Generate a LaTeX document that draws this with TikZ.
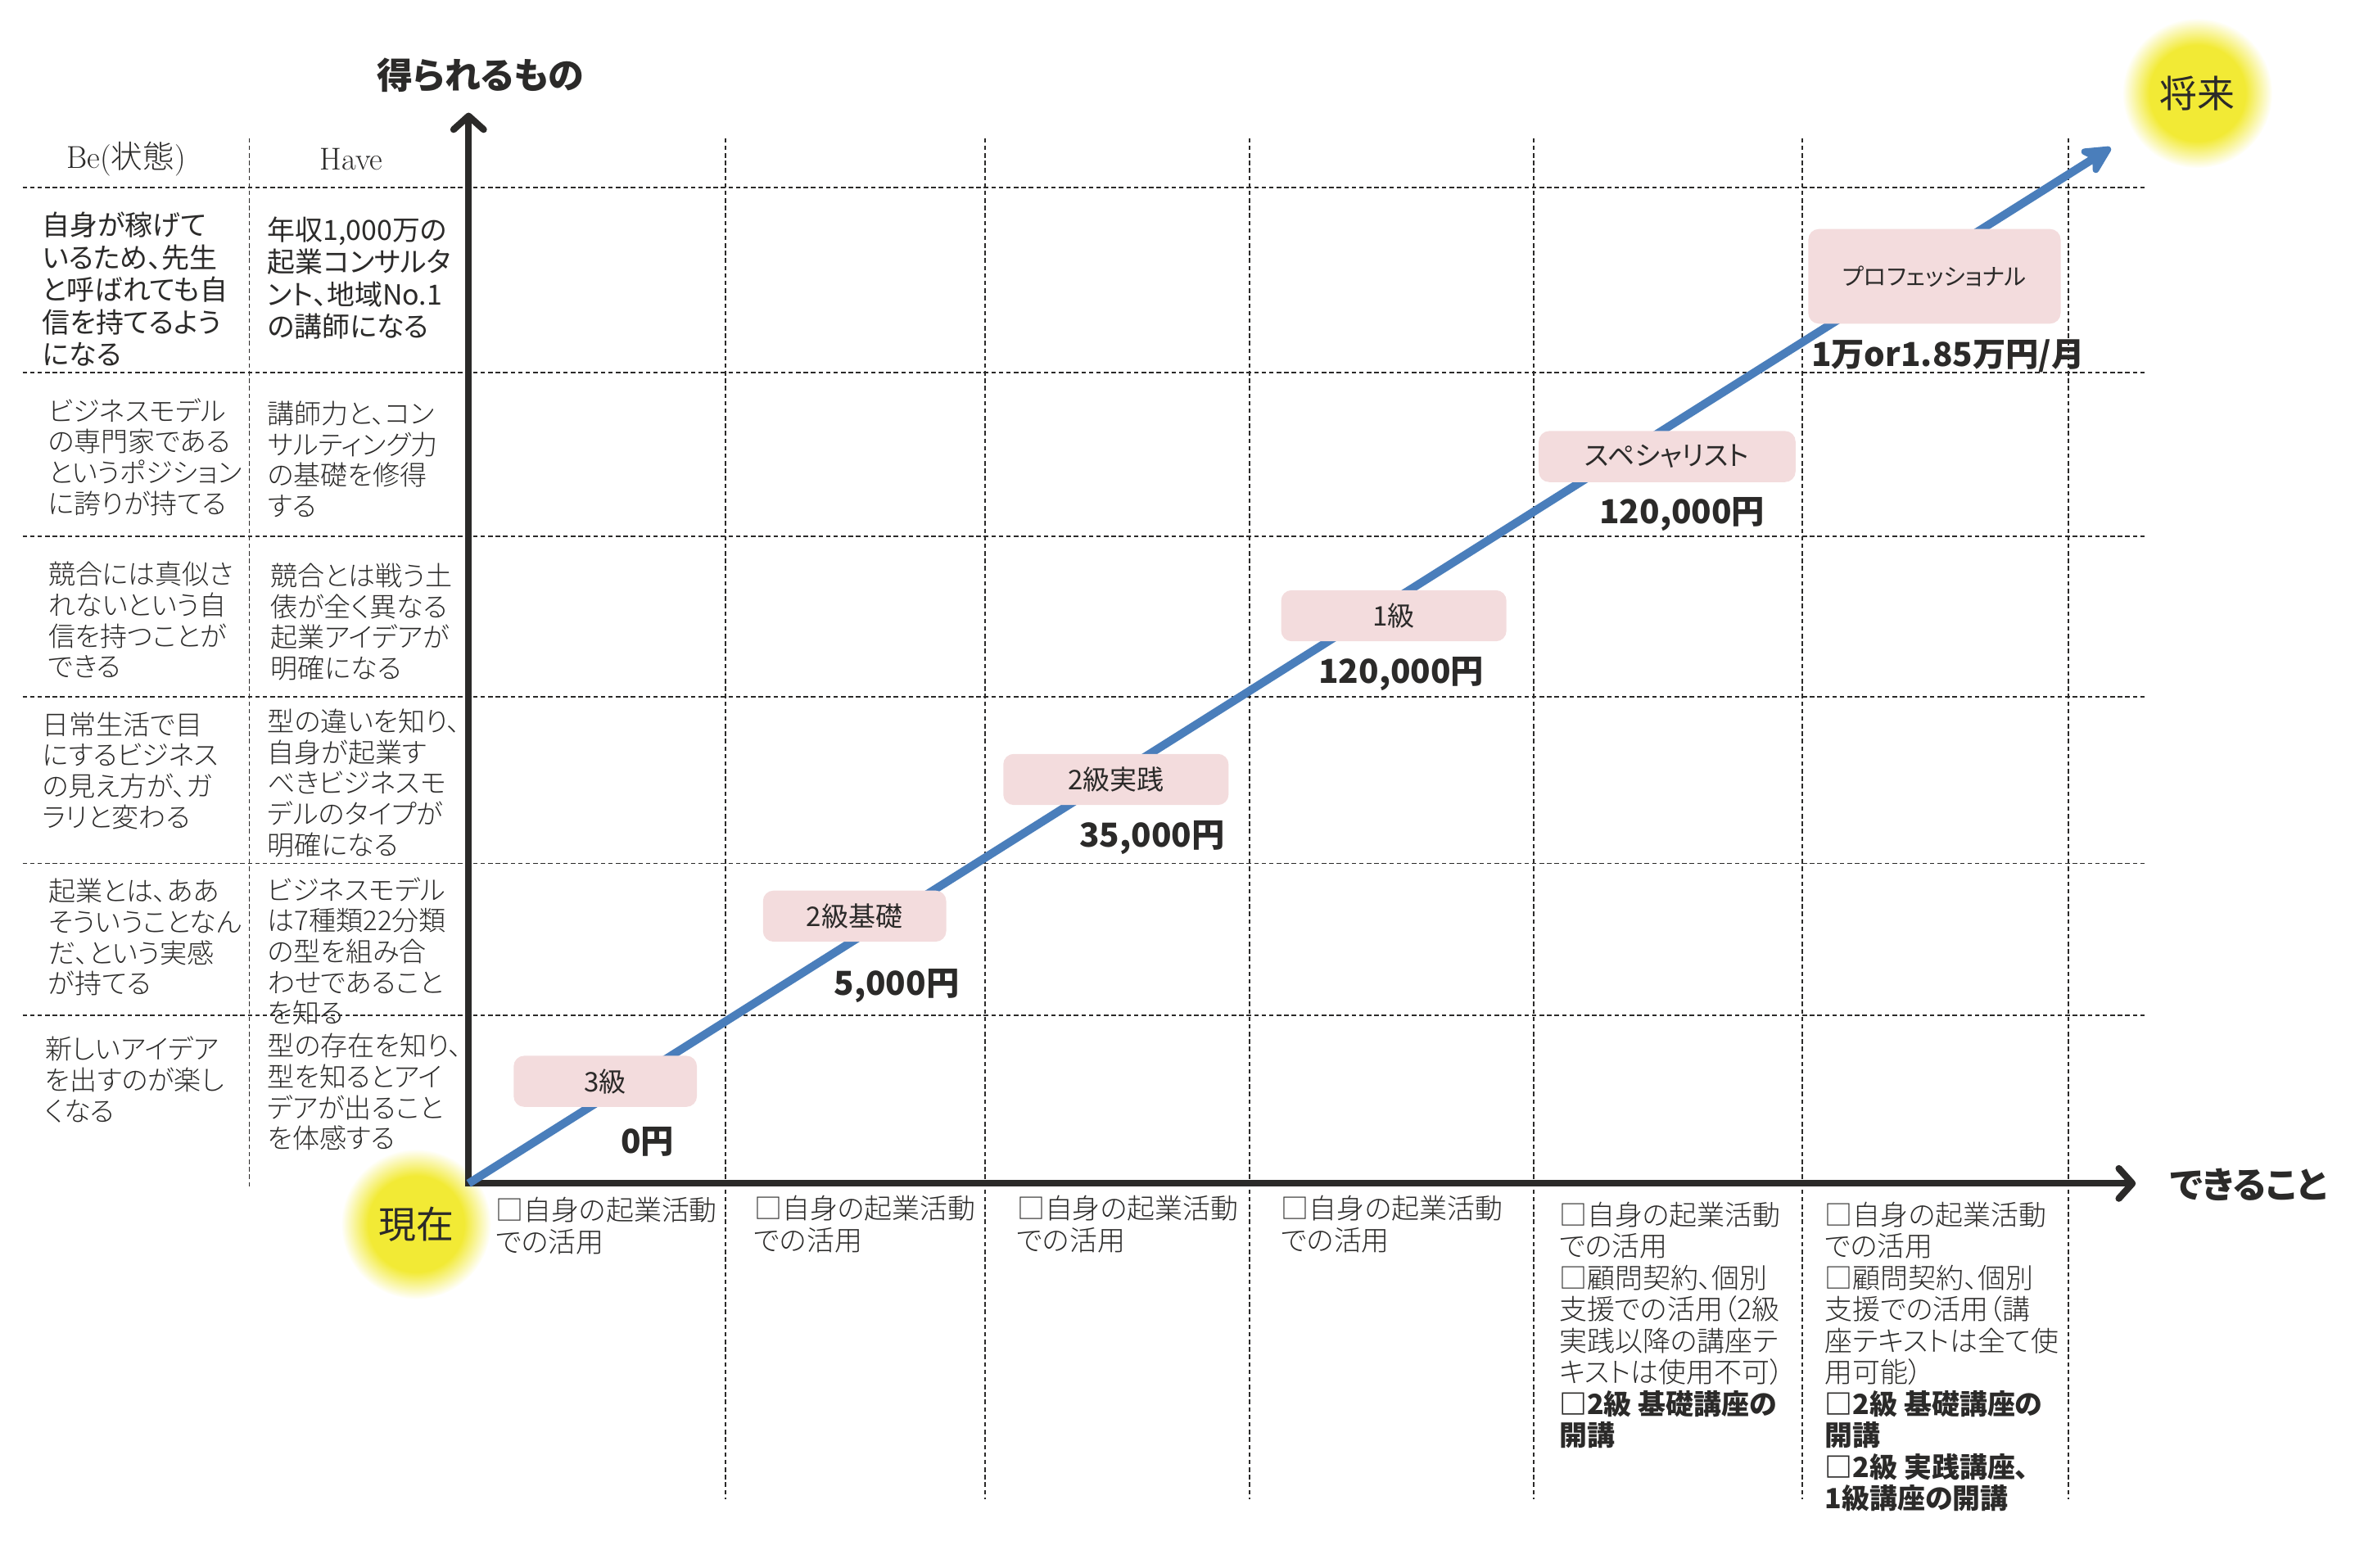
\documentclass[tikz,border=0pt]{standalone}
\usepackage{fontspec}
\usepackage{tikz}
\usetikzlibrary{arrows.meta,positioning}
\newfontfamily\jp[RawFeature=+palt]{Noto Sans CJK JP}
\IfFontExistsTF{Noto Sans CJK JP Light}
	{\newfontfamily\jplight[RawFeature=+palt]{Noto Sans CJK JP Light}}
	{\newfontfamily\jplight[RawFeature=+palt]{Noto Sans CJK JP}}
\newcommand{\boldline}[1]{{\jp\bfseries #1}}
\definecolor{inkgray}{HTML}{2B2A29}
\definecolor{boxpink}{HTML}{F3DCDD}
\definecolor{lineblue}{HTML}{4A7EBB}
\definecolor{glowyellow}{HTML}{F2EA35}
\pgfdeclareradialshading{glow}{\pgfpoint{0bp}{0bp}}{color(0bp)=(glowyellow); color(16bp)=(glowyellow); color(25bp)=(white); color(50bp)=(white)}
\tikzset{
	gridline/.style={draw=inkgray, line width=0.9pt, dash pattern=on 3pt off 2pt},
	axis/.style={draw=inkgray, line width=4.5pt, {Straight Barb[length=9pt,width=20pt,round]}-{Straight Barb[length=9pt,width=20pt,round]}},
	progress/.style={draw=lineblue, line width=5.5pt, -{Stealth[length=24pt,width=24pt,inset=7pt,round]}},
	spot/.style={circle, shading=glow, minimum size=100pt, inner sep=0pt, text=inkgray, font=\jp\fontsize{25}{27}\selectfont},
	axislabel/.style={inner sep=0pt, text=inkgray, font=\jp\bfseries\fontsize{24}{26}\selectfont},
	header/.style={inner sep=0pt, text=inkgray, font=\fontsize{21}{23}\selectfont},
	cell/.style={anchor=north west, align=left, inner sep=0pt, text=inkgray, font=\jplight\fontsize{18}{20.5}\selectfont},
	cellbold/.style={cell, font=\jp\fontsize{18.5}{21.5}\selectfont},
	usecase/.style={anchor=north west, align=left, inner sep=0pt, text=inkgray, font=\jplight\fontsize{18.5}{21}\selectfont},
	levelbox/.style={fill=boxpink, rounded corners=7pt, minimum height=34pt, inner sep=0pt, text=inkgray, font=\jp\fontsize{18}{20}\selectfont},
	price/.style={inner sep=0pt, text=inkgray, font=\jp\bfseries\fontsize{22}{24}\selectfont}
}

\begin{document}
\begin{tikzpicture}[x=1pt, y=-1pt]
		\useasboundingbox (0,0) rectangle (1568,1044);
		
		\node[spot] (now) at (277,815) {現在};
		\node[spot] (future) at (1463,62) {将来};
		
		\draw[gridline] (15,125) -- (1428,125);
		\draw[gridline] (15,248) -- (1428,248);
		\draw[gridline] (15,357) -- (1428,357);
		\draw[gridline] (15,464) -- (1428,464);
		\draw[gridline] (15,575) -- (1428,575);
		\draw[gridline] (15,676) -- (1428,676);
		
		\draw[gridline] (166,92) -- (166,790);
		\draw[gridline] (483,92) -- (483,998);
		\draw[gridline] (656,92) -- (656,998);
		\draw[gridline] (832,92) -- (832,998);
		\draw[gridline] (1021,92) -- (1021,998);
		\draw[gridline] (1200,92) -- (1200,998);
		\draw[gridline] (1377,92) -- (1377,998);
		
		\node[header] (behead) at (84,106) {Be({\jplight 状態})};
		\node[header] (havehead) at (234,106) {Have};
		
		\node[cellbold] (b1) at (28,141) {自身が稼げて\\いるため、先生\\と呼ばれても自\\信を持てるよう\\になる};
		\node[cellbold] (h1) at (178,144) {年収1,000万の\\起業コンサルタ\\ント、地域No.1\\の講師になる};
		\node[cell] (b2) at (32,265) {ビジネスモデル\\の専門家である\\というポジション\\に誇りが持てる};
		\node[cell] (h2) at (178,267) {講師力と、コン\\サルティング力\\の基礎を修得\\する};
		\node[cell] (b3) at (32,374) {競合には真似さ\\れないという自\\信を持つことが\\できる};
		\node[cell] (h3) at (180,375) {競合とは戦う土\\俵が全く異なる\\起業アイデアが\\明確になる};
		\node[cell] (b4) at (28,474) {日常生活で目\\にするビジネス\\の見え方が、ガ\\ラリと変わる};
		\node[cell] (h4) at (178,472) {型の違いを知り、\\自身が起業す\\べきビジネスモ\\デルのタイプが\\明確になる};
		\node[cell] (b5) at (32,585) {起業とは、ああ\\そういうことなん\\だ、という実感\\が持てる};
		\node[cell] (h5) at (178,584) {ビジネスモデル\\は7種類22分類\\の型を組み合\\わせであること\\を知る};
		\node[cell] (b6) at (30,690) {新しいアイデア\\を出すのが楽し\\くなる};
		\node[cell] (h6) at (178,688) {型の存在を知り、\\型を知るとアイ\\デアが出ること\\を体感する};
		
		\coordinate (origin) at (312,788);
		\coordinate (ytip) at (312,75);
		\coordinate (xtip) at (1422,788);
		\draw[axis] (ytip) -- (origin) -- (xtip);
		\node[axislabel] (ylabel) at (320,50) {得られるもの};
		\node[axislabel] (xlabel) at (1497,789) {できること};
		
		\draw[progress, shorten >=18pt] (origin) -- (future); % growth
		
		\node[levelbox, minimum width=122pt] (l1) at (403,720) {3級};
		\node[price, below=13pt of l1, xshift=28pt] (l1c) {0円};
		\node[levelbox, minimum width=122pt] (l2) at (569,610) {2級基礎};
		\node[price, below=18pt of l2, xshift=28pt] (l2c) {5,000円};
		\node[levelbox, minimum width=150pt] (l3) at (743,519) {2級実践};
		\node[price, below=10pt of l3, xshift=24pt] (l3c) {35,000円};
		\node[levelbox, minimum width=150pt] (l4) at (928,410) {1級};
		\node[price, below=10pt of l4, xshift=5pt] (l4c) {120,000円};
		\node[levelbox, minimum width=171pt] (l5) at (1110,304) {スペシャリスト};
		\node[price, below=10pt of l5, xshift=10pt] (l5c) {120,000円};
		\node[levelbox, minimum width=168pt, minimum height=63pt, font=\jp\fontsize{15.5}{18}\selectfont] (l6) at (1288,184) {プロフェッショナル};
		\node[price, below=10pt of l6, xshift=9pt] (l6c) {1万or1.85万円/月};
		
		\node[usecase] (u1) at (330,797) {□自身の起業活動\\での活用};
		\node[usecase] (u2) at (502,796) {□自身の起業活動\\での活用};
		\node[usecase] (u3) at (677,796) {□自身の起業活動\\での活用};
		\node[usecase] (u4) at (853,796) {□自身の起業活動\\での活用};
		\node[usecase] (u5) at (1038,800) {□自身の起業活動\\での活用\\□顧問契約、個別\\支援での活用（2級\\実践以降の講座テ\\キストは使用不可）\\\boldline{□2級 基礎講座の}\\\boldline{開講}};
		\node[usecase] (u6) at (1215,800) {□自身の起業活動\\での活用\\□顧問契約、個別\\支援での活用（講\\座テキストは全て使\\用可能）\\\boldline{□2級 基礎講座の}\\\boldline{開講}\\\boldline{□2級 実践講座、}\\\boldline{1級講座の開講}};
		
	\end{tikzpicture}
\end{document}
